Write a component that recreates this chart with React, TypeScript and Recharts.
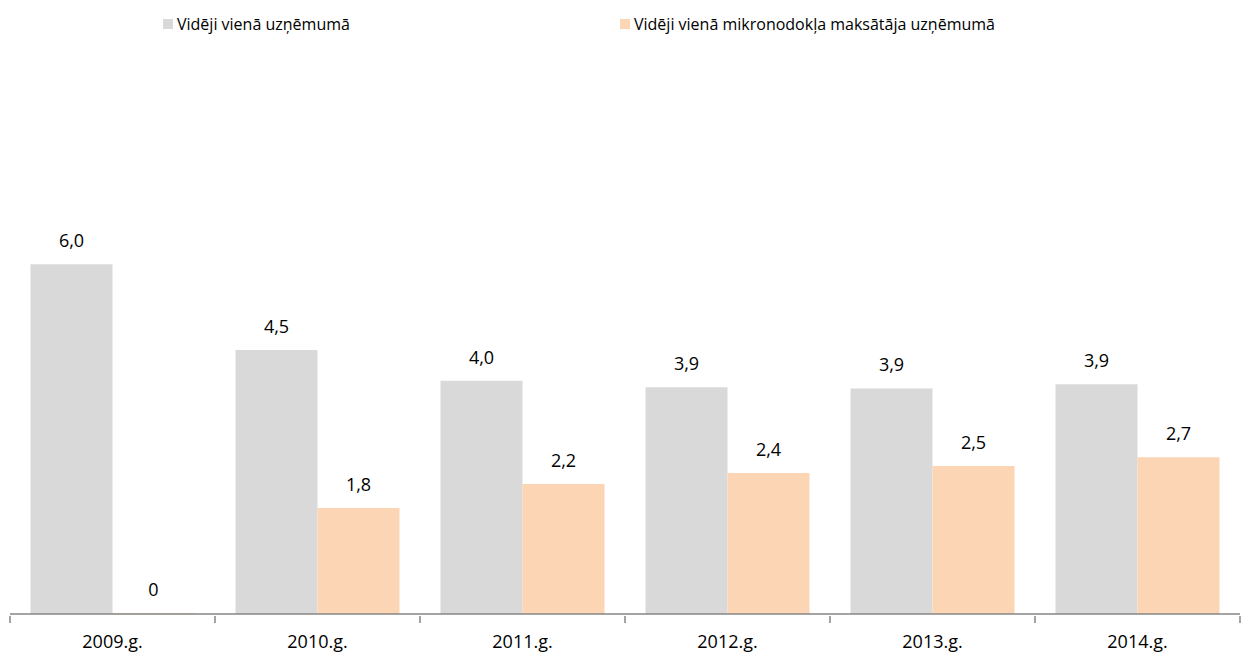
import { BarChart, Bar, XAxis, YAxis, Legend, LabelList } from 'recharts';

const years = ['2009.g.', '2010.g.', '2011.g.', '2012.g.', '2013.g.', '2014.g.'];
const perCompany = [6.0, 4.53, 4.0, 3.89, 3.87, 3.94];
const perMicroTaxPayer = [0, 1.82, 2.23, 2.42, 2.54, 2.69];

const seriesNames = {
    all: 'Vidēji vienā uzņēmumā',
    micro: 'Vidēji vienā mikronodokļa maksātāja uzņēmumā',
};

const data = years.map((year, i) => ({
    year,
    all: perCompany[i],
    micro: perMicroTaxPayer[i],
}));

const FONT = '"Open Sans", "Noto Sans", sans-serif';
const BAND = 205;
const legendOrder = ['all', 'micro'];

const fmt = (v: any) => (Number(v) === 0 ? '0' : Number(v).toFixed(1).replace('.', ','));

function YearTick(props: any) {
    const { x, y, payload, index } = props;
    const left = x - BAND / 2;
    const right = x + BAND / 2;
    return (
        <g>
            <line x1={left} y1={y - 6} x2={left} y2={y + 1} stroke="#868686" strokeWidth={1.5} />
            {index === years.length - 1 && (
                <line x1={right} y1={y - 6} x2={right} y2={y + 1} stroke="#868686" strokeWidth={1.5} />
            )}
            <text x={x} y={y + 26} textAnchor="middle" fontSize={18} fontFamily={FONT} fill="#000">
                {payload.value}
            </text>
        </g>
    );
}

function TopLegend({ payload }: any) {
    const lefts = [163, 620];
    const items = legendOrder
        .map(k => (payload || []).find((p: any) => p.dataKey === k))
        .filter(Boolean);
    return (
        <div style={{ position: 'relative', width: 1241, height: 20 }}>
            {items.map((item: any, i: number) => (
                <div
                    key={item.value}
                    style={{
                        position: 'absolute', left: lefts[i], top: 0,
                        display: 'flex', alignItems: 'center',
                        fontFamily: FONT, fontSize: 16, color: '#000', whiteSpace: 'nowrap',
                    }}
                >
                    <span style={{ width: 10, height: 10, background: item.color, marginRight: 4, display: 'inline-block' }} />
                    {item.value}
                </div>
            ))}
        </div>
    );
}

export default function App() {
    return (
        <div style={{ position: 'absolute', left: 0, top: 0, background: '#fff' }}>
            <BarChart
                width={1241}
                height={655}
                data={data}
                margin={{ top: 31, right: 1, bottom: 0, left: 10 }}
                barCategoryGap="10%"
                barGap={0}
            >
                <XAxis
                    dataKey="year"
                    height={41}
                    axisLine={{ stroke: '#868686', strokeWidth: 1.5 }}
                    tickLine={false}
                    tick={<YearTick />}
                    interval={0}
                />
                <YAxis hide domain={[0, 10]} />
                <Legend
                    layout="horizontal"
                    verticalAlign="middle"
                    align="center"
                    wrapperStyle={{ top: 13, left: 0, width: 1241 }}
                    content={<TopLegend />}
                />
                <Bar dataKey="all" name={seriesNames.all} fill="#d9d9d9" isAnimationActive={false}>
                    <LabelList dataKey="all" position="top" offset={17} formatter={fmt}
                        style={{ fontSize: 18, fontFamily: FONT, fill: '#000' }} />
                </Bar>
                <Bar dataKey="micro" name={seriesNames.micro} fill="#fcd5b4" minPointSize={1} isAnimationActive={false}>
                    <LabelList dataKey="micro" position="top" offset={17} formatter={fmt}
                        style={{ fontSize: 18, fontFamily: FONT, fill: '#000' }} />
                </Bar>
            </BarChart>
        </div>
    );
}
